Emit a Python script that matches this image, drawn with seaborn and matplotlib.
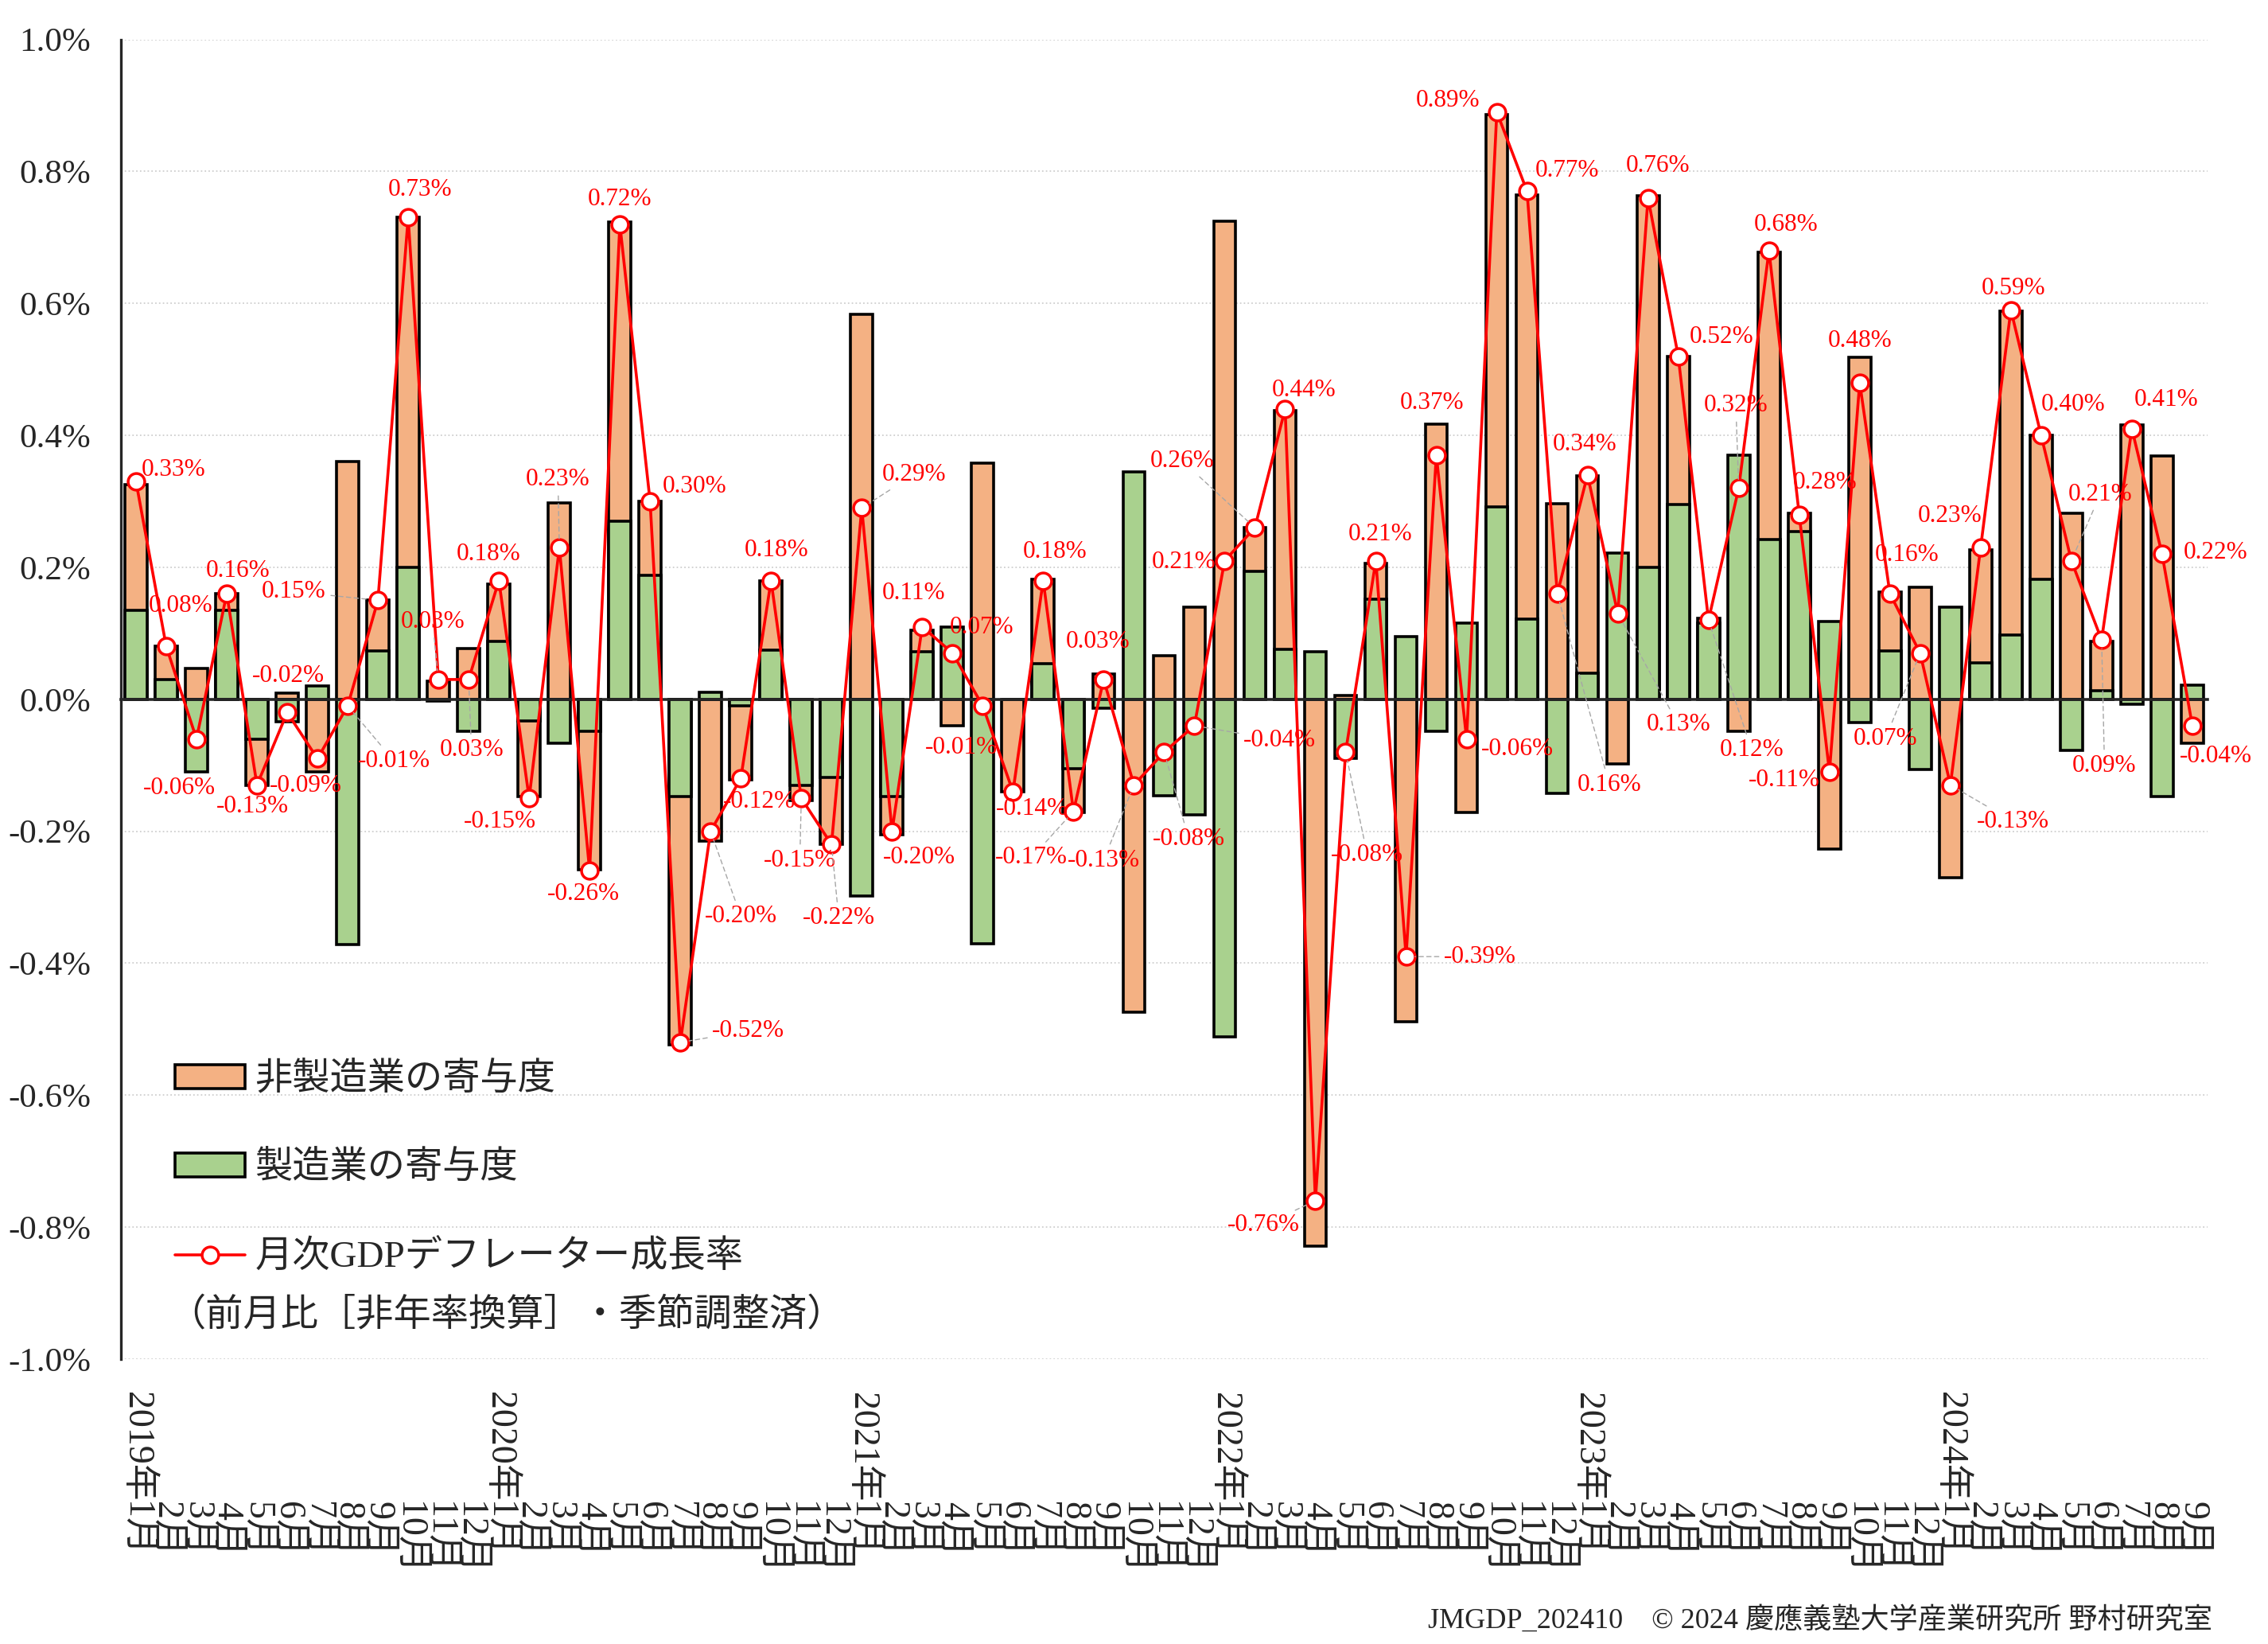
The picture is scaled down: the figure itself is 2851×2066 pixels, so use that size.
import numpy as np
import pandas as pd
import matplotlib
matplotlib.use('Agg')
import matplotlib.pyplot as plt
import seaborn as sns
from matplotlib.patches import Patch
from matplotlib.lines import Line2D
from matplotlib.ticker import FixedLocator, FuncFormatter

sns.set_style('white')
plt.rcParams['font.family'] = ['Liberation Serif', 'Noto Sans CJK JP']

# %%
# Data (contributions in %-points)
months = [f'{y}-{m:02d}' for y in range(2019, 2025) for m in range(1, 13)][:69]
month_labels = [f'{int(m[5:])}月' for m in months]
year_labels = ['2019年', '2020年', '2021年', '2022年', '2023年', '2024年']

manufacturing = [
    0.135, 0.03, -0.11, 0.135, -0.06, -0.034, 0.02, -0.372, 0.073, 0.20, -0.003, -0.048,
    0.088, -0.033, -0.067, -0.048, 0.27, 0.188, -0.148, 0.01, -0.01, 0.074, -0.13, -0.118,
    -0.298, -0.147, 0.072, 0.11, -0.37, 0.0, 0.054, -0.105, -0.013, 0.345, -0.146, -0.175,
    -0.512, 0.194, 0.076, 0.072, -0.089, 0.152, 0.095, -0.048, 0.116, 0.291, 0.122, -0.142,
    0.04, 0.222, 0.20, 0.295, 0.115, 0.37, 0.242, 0.254, 0.118, -0.035, 0.073, -0.106,
    0.14, 0.055, 0.098, 0.182, -0.077, 0.013, -0.007, -0.147, 0.022,
]
non_manufacturing = [
    0.19, 0.05, 0.047, 0.025, -0.07, 0.009, -0.11, 0.36, 0.077, 0.53, 0.028, 0.077,
    0.087, -0.115, 0.298, -0.21, 0.453, 0.112, -0.376, -0.215, -0.112, 0.106, -0.023, -0.102,
    0.583, -0.058, 0.033, -0.04, 0.358, -0.14, 0.128, -0.066, 0.038, -0.474, 0.066, 0.14,
    0.725, 0.066, 0.362, -0.829, 0.006, 0.054, -0.489, 0.417, -0.171, 0.595, 0.642, 0.296,
    0.299, -0.098, 0.563, 0.225, 0.008, -0.048, 0.436, 0.028, -0.227, 0.518, 0.09, 0.17,
    -0.27, 0.172, 0.49, 0.218, 0.282, 0.075, 0.416, 0.369, -0.067,
]
deflator_growth = [
    0.33, 0.08, -0.06, 0.16, -0.13, -0.02, -0.09, -0.01, 0.15, 0.73, 0.03, 0.03,
    0.18, -0.15, 0.23, -0.26, 0.72, 0.30, -0.52, -0.20, -0.12, 0.18, -0.15, -0.22,
    0.29, -0.20, 0.11, 0.07, -0.01, -0.14, 0.18, -0.17, 0.03, -0.13, -0.08, -0.04,
    0.21, 0.26, 0.44, -0.76, -0.08, 0.21, -0.39, 0.37, -0.06, 0.89, 0.77, 0.16,
    0.34, 0.13, 0.76, 0.52, 0.12, 0.32, 0.68, 0.28, -0.11, 0.48, 0.16, 0.07,
    -0.13, 0.23, 0.59, 0.40, 0.21, 0.09, 0.41, 0.22, -0.04,
]

# label offsets (in reference pixels, dx right / dy up)
label_offsets = [
    (26, 8), (10, 28), (-12, -34), (8, 16), (-3, -15), (1, 25), (-8, -19), (32, -38), (-58, 6), (8, 19), (-4, 40), (2, -49),
    (-7, 18), (-20, -16), (-1, 47), (-4, -16), (0, 17), (31, 10), (47, 8), (21, -59), (13, -16), (4, 21), (-1, -43), (5, -51),
    (36, 23), (19, -18), (-6, 23), (20, 18), (-15, -29), (13, -12), (8, 20), (-29, -32), (-4, 26), (-21, -52), (17, -60), (59, -10),
    (-28, -1), (-50, 46), (13, 13), (-36, -17), (15, -71), (3, 18), (51, 0), (-3, 36), (35, -7), (-34, 8), (28, 14), (36, -132),
    (-2, 21), (42, -77), (7, 22), (30, 13), (30, -90), (-2, 57), (12, 18), (18, 22), (-31, -6), (0, 29), (12, 27), (-24, -59),
    (43, -25), (-21, 22), (2, 15), (22, 21), (20, 46), (2, -87), (24, 20), (37, 1), (16, -21),
]

ORANGE = '#F4B183'
GREEN = '#A9D18E'
RED = '#FF0000'

df = pd.DataFrame({'month': months, 'mfg': manufacturing,
                   'nonmfg': non_manufacturing, 'total': deflator_growth})
df['pos'] = np.arange(len(df))
same_sign = np.sign(df['nonmfg']) == np.sign(df['mfg'])
# orange drawn from zero to the stacked top, green drawn over it
df['nonmfg_top'] = np.where(same_sign, df['nonmfg'] + df['mfg'], df['nonmfg'])

# %%
fig = plt.figure(figsize=(28.51, 20.66), dpi=100)
ax = fig.add_axes([0.0533, 0.1733, 0.92, 0.8027])

bar_kw = dict(native_scale=True, width=0.73, saturation=1, edgecolor='black',
              linewidth=2.6, errorbar=None, ax=ax, zorder=2)
sns.barplot(data=df, x='pos', y='nonmfg_top', color=ORANGE, **bar_kw)
sns.barplot(data=df, x='pos', y='mfg', color=GREEN, **bar_kw)
sns.lineplot(data=df, x='pos', y='total', color=RED, linewidth=2.6, marker='o',
             markersize=15, markerfacecolor='white', markeredgecolor=RED,
             markeredgewidth=2.5, ax=ax, zorder=4)

S = 72 / 100 * 2851 / 1568
for i, (v, (dx, dy)) in enumerate(zip(deflator_growth, label_offsets)):
    far = np.hypot(dx, dy) > 38
    ax.annotate(f'{v:.2f}%', xy=(i, v), xytext=(dx * S, dy * S), textcoords='offset points',
                ha='center', va='center', color=RED, fontsize=22.5, zorder=5,
                arrowprops=dict(arrowstyle='-', color='#A6A6A6', lw=1.0, ls=(0, (4, 3)),
                                shrinkA=2, shrinkB=8) if far else None)

# axes styling
ax.set_xlim(-0.5, len(df) - 0.5)
ax.set_ylim(-1.0, 1.0)
ax.set_xlabel('')
ax.set_ylabel('')
ax.set_yticks(np.linspace(-1.0, 1.0, 11))
ax.yaxis.set_major_formatter(FuncFormatter(lambda v, p: f'{v + 0:.1f}%'))
ax.yaxis.grid(True, color='#CFCFCF', linestyle=':', linewidth=1.3)
ax.set_axisbelow(True)
ax.tick_params(axis='y', direction='inout', length=20, width=2.2, labelsize=31, pad=17)

for s in ['top', 'right']:
    ax.spines[s].set_visible(False)
ax.spines['left'].set_linewidth(2.4)
ax.spines['bottom'].set_position(('data', 0))
ax.spines['bottom'].set_linewidth(2.6)
ax.spines['bottom'].set_zorder(3)
ax.set_xticks([])
ax.xaxis.set_minor_locator(FixedLocator(np.arange(-0.5, len(df), 1)))
ax.tick_params(axis='x', which='minor', direction='inout', length=22, width=2.4)

# month labels and year labels below the plot
sec = ax.secondary_xaxis(-0.108)
sec.set_xticks(df['pos'].tolist(), month_labels)
sec2 = ax.secondary_xaxis(-0.108)
sec2.set_xticks(df['pos'][::12].tolist(), year_labels)
for axis_, ha in [(sec, 'left'), (sec2, 'right')]:
    axis_.tick_params(length=0, pad=0, labelsize=33)
    axis_.spines['bottom'].set_visible(False)
    for lab in axis_.get_xticklabels():
        lab.set_rotation(-90)
        lab.set_rotation_mode('anchor')
        lab.set_ha(ha)
        lab.set_va('center')

# legend
handles = [
    Patch(facecolor=ORANGE, edgecolor='black', linewidth=2.6),
    Patch(facecolor=GREEN, edgecolor='black', linewidth=2.6),
    Line2D([], [], color=RED, linewidth=2.6, marker='o', markersize=15,
           markerfacecolor='white', markeredgecolor=RED, markeredgewidth=2.5),
]
labels = ['非製造業の寄与度', '製造業の寄与度', '月次GDPデフレーター成長率']
ax.legend(handles, labels, loc='lower left', bbox_to_anchor=(0.026, 0.0635), frameon=False,
          fontsize=34, handlelength=1.87, handleheight=0.6, handletextpad=0.25,
          labelspacing=1.43, borderpad=0, borderaxespad=0)
ax.text(0.0225, 0.033, '（前月比［非年率換算］・季節調整済）', transform=ax.transAxes,
        fontsize=34, ha='left', va='center')

fig.text(0.9755, 0.0145, 'JMGDP_202410\u3000© 2024 慶應義塾大学産業研究所 野村研究室',
         ha='right', va='center', fontsize=26)

fig.savefig('out.png', dpi=100)
